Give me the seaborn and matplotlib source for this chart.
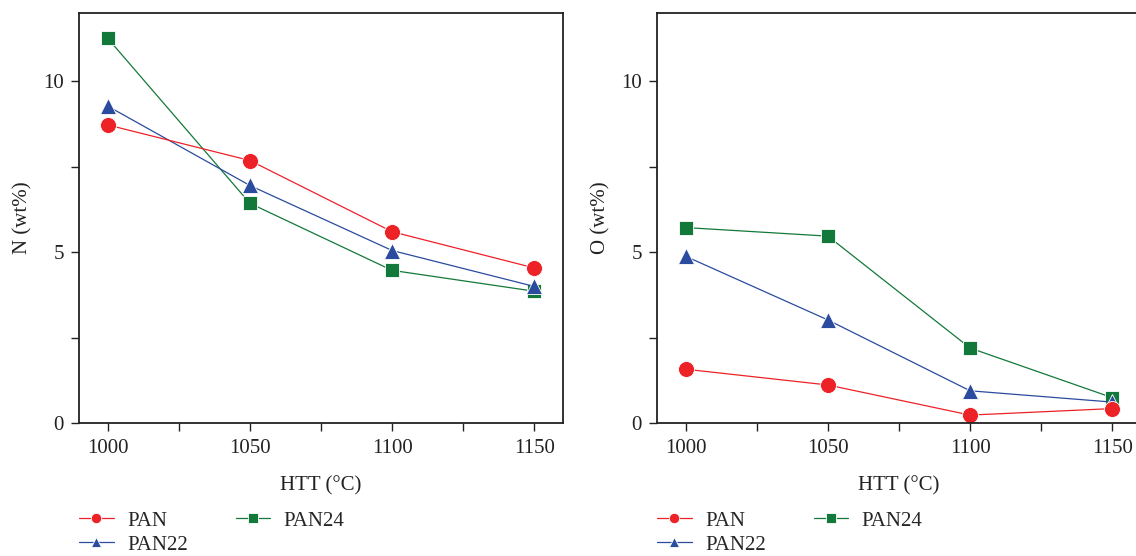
import numpy as np
import pandas as pd
import matplotlib
matplotlib.use("Agg")
import matplotlib.pyplot as plt
import seaborn as sns

# ---- data ----
htt = [1000, 1050, 1100, 1150]
samples = ["PAN", "PAN22", "PAN24"]
n_pan = [8.72, 7.68, 5.60, 4.54]
n_pan22 = [9.27, 6.95, 5.05, 4.00]
n_pan24 = [11.25, 6.43, 4.47, 3.86]
o_pan = [1.58, 1.12, 0.24, 0.43]
o_pan22 = [4.88, 3.02, 0.95, 0.62]
o_pan24 = [5.72, 5.47, 2.20, 0.75]
x_ticks = [1000, 1050, 1100, 1150]
y_ticks = [0, 5, 10]

colors = {"PAN": "#ec2227", "PAN22": "#2a4b9e", "PAN24": "#13793a"}
markers = {"PAN": "o", "PAN22": "^", "PAN24": "s"}
msize = {"PAN": 11.5, "PAN22": 12, "PAN24": 10.5}

rows = []
for s, nv, ov in zip(samples, [n_pan, n_pan22, n_pan24], [o_pan, o_pan22, o_pan24]):
    for t, a, b in zip(htt, nv, ov):
        rows.append({"HTT": t, "sample": s, "N": a, "O": b})
df = pd.DataFrame(rows)

sns.set_style("ticks")
plt.rcParams["font.family"] = ["Liberation Serif", "DejaVu Serif"]

fig = plt.figure(figsize=(11.36, 5.56), dpi=100)
W, H = 1136, 556
ax1 = fig.add_axes([79.3 / W, (H - 423.3) / H, 483.4 / W, 410.6 / H])
ax2 = fig.add_axes([657.3 / W, (H - 423.3) / H, 483.4 / W, 410.6 / H])

fs = 15
for ax, col, lab in [(ax1, "N", "N (wt%)"), (ax2, "O", "O (wt%)")]:
    for s in ["PAN24", "PAN22", "PAN"]:
        sub = df[df["sample"] == s]
        sns.lineplot(data=sub, x="HTT", y=col, ax=ax, color=colors[s],
                     marker=markers[s], markersize=msize[s], linewidth=0.9,
                     markeredgecolor="white", markeredgewidth=0.6, label=s,
                     legend=False)
    ax.set_xlim(990, 1160)
    ax.set_ylim(0, 12)
    ax.set_xticks(x_ticks)
    ax.set_xticks([1025, 1075, 1125], minor=True)
    ax.set_yticks(y_ticks)
    ax.set_yticks([2.5, 7.5], minor=True)
    ax.tick_params(which="both", direction="out", length=6, width=1.0,
                   labelsize=fs, color="#222222", labelcolor="#222222", pad=5)
    for sp in ax.spines.values():
        sp.set_linewidth(1.3)
        sp.set_color("#222222")
    ax.set_xlabel("HTT (°C)", fontsize=fs, color="#222222", labelpad=13)
    ax.set_ylabel(lab, fontsize=fs, color="#222222", labelpad=8)
    handles, labels = ax.get_legend_handles_labels()
    order = [labels.index(s) for s in samples]
    leg = ax.legend([handles[i] for i in order], [labels[i] for i in order],
                    ncol=2, loc="upper left", bbox_to_anchor=(0.0, -0.214),
                    frameon=False, fontsize=fs, markerscale=0.65,
                    handlelength=1.65, handletextpad=0.65, columnspacing=2.3,
                    labelspacing=0.2, borderaxespad=0.0, borderpad=0.0)

fig.savefig("out.png", dpi=100)
